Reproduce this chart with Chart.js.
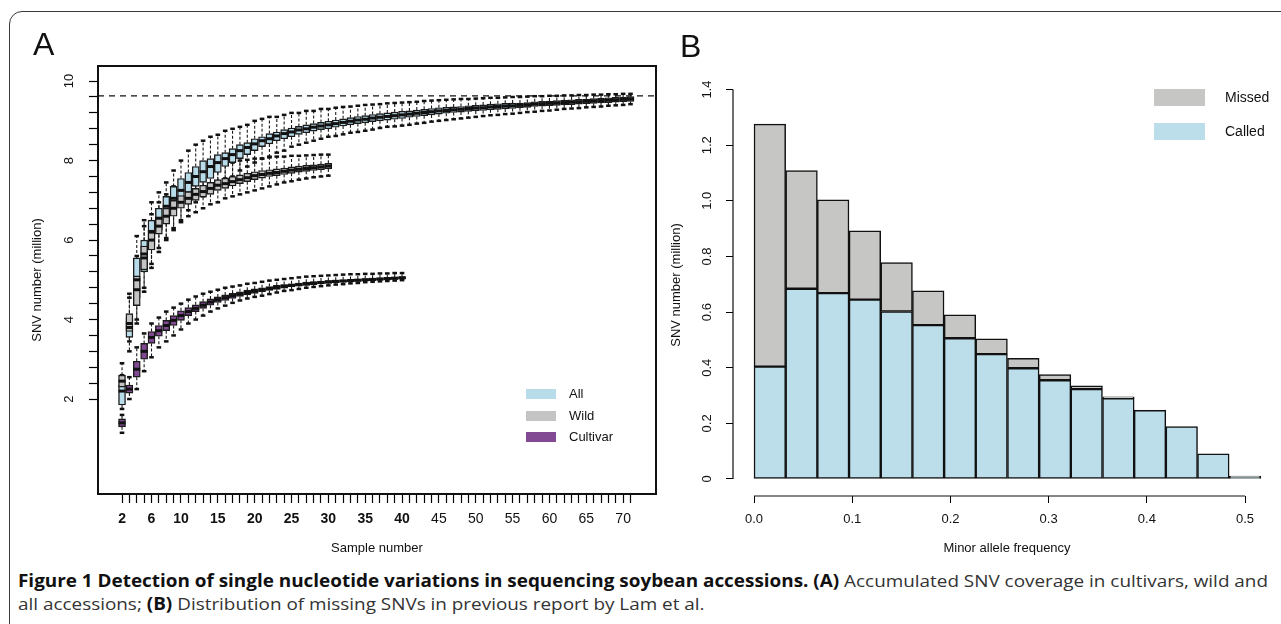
<!DOCTYPE html>
<html>
<head>
<meta charset="utf-8">
<script src="https://cdn.jsdelivr.net/npm/chart.js@4.4.0/dist/chart.umd.min.js"></script>
<style>
body { margin:0; width:1281px; height:624px; overflow:hidden; background:#fff; position:relative; font-family:"Liberation Sans", Arial, sans-serif; }
#frame { position:absolute; left:9px; top:11px; width:1320px; height:700px; border:1.5px solid #3a3a3a; border-radius:13px; box-sizing:border-box; }
#chartA { position:absolute; left:0; top:0; }
#chartB { position:absolute; left:660px; top:0; }
.letter { position:absolute; font-size:32px; line-height:1; color:#111; }
.sw { position:absolute; }
.leg { position:absolute; color:#111; line-height:1; white-space:nowrap; }
.cap { position:absolute; left:18px; white-space:nowrap; font-family:"Open Sans", sans-serif; font-size:17px; line-height:20px; color:#333; transform-origin:0 0; }
.cap b { color:#111; }
</style>
</head>
<body>
<div id="frame"></div>
<canvas id="chartA" width="670" height="560"></canvas>
<canvas id="chartB" width="621" height="560"></canvas>

<div class="letter" style="left:33px;top:28px;">A</div>
<div class="letter" style="left:680px;top:30px;">B</div>

<!-- legend A -->
<div class="sw" style="left:526px;top:389px;width:30px;height:10px;background:#b8dcea;"></div>
<div class="sw" style="left:526px;top:411px;width:30px;height:10px;background:#c4c4c4;"></div>
<div class="sw" style="left:526px;top:432px;width:30px;height:10px;background:#834a94;"></div>
<div class="leg" style="left:569px;top:387px;font-size:13px;">All</div>
<div class="leg" style="left:569px;top:409px;font-size:13px;">Wild</div>
<div class="leg" style="left:569px;top:430px;font-size:13px;">Cultivar</div>

<!-- legend B -->
<div class="sw" style="left:1154px;top:89px;width:51px;height:17px;background:#c6c6c5;"></div>
<div class="sw" style="left:1154px;top:123px;width:51px;height:17px;background:#bcdeeb;"></div>
<div class="leg" style="left:1225px;top:90px;font-size:14px;">Missed</div>
<div class="leg" style="left:1225px;top:124px;font-size:14px;">Called</div>

<div class="cap" id="cap1" style="top:571px;"><b>Figure 1 Detection of single nucleotide variations in sequencing soybean accessions. (A)</b> Accumulated SNV coverage in cultivars, wild and</div>
<div class="cap" id="cap2" style="top:594px;">all accessions; <b>(B)</b> Distribution of missing SNVs in previous report by Lam et al.</div>

<script>
// ---------- panel A : accumulated SNV (million) per sample number ----------
// all accessions, samples 2..71
const allMed = [2.20, 3.80, 5.00, 5.65, 6.20, 6.55, 6.85, 7.05, 7.25, 7.45,
  7.60, 7.72, 7.85, 7.95, 8.05, 8.15, 8.25, 8.33, 8.42, 8.50,
  8.55, 8.62, 8.68, 8.72, 8.77, 8.80, 8.84, 8.87, 8.90, 8.93,
  8.96, 8.99, 9.02, 9.04, 9.07, 9.09, 9.11, 9.13, 9.15, 9.17,
  9.19, 9.21, 9.23, 9.25, 9.26, 9.28, 9.29, 9.31, 9.32, 9.33,
  9.35, 9.36, 9.37, 9.38, 9.39, 9.40, 9.42, 9.43, 9.44, 9.45,
  9.46, 9.47, 9.48, 9.49, 9.50, 9.51, 9.52, 9.53, 9.54, 9.55];
const allQ1 = [1.85, 3.55, 4.55, 5.20, 5.85, 6.25, 6.55, 6.80, 7.00, 7.20,
  7.35, 7.45, 7.55, 7.70, 7.85, 7.95, 8.05, 8.15, 8.25, 8.35,
  8.42, 8.50, 8.55, 8.60, 8.66, 8.70, 8.74, 8.78, 8.80, 8.84,
  8.87, 8.90, 8.93, 8.95, 8.98, 9.00, 9.02, 9.04, 9.06, 9.09,
  9.11, 9.13, 9.15, 9.17, 9.19, 9.21, 9.22, 9.24, 9.25, 9.26,
  9.28, 9.29, 9.30, 9.31, 9.33, 9.34, 9.36, 9.37, 9.38, 9.39,
  9.40, 9.41, 9.42, 9.43, 9.44, 9.45, 9.46, 9.47, 9.48, 9.49];
const allQ3 = [2.35, 4.05, 5.55, 6.00, 6.50, 6.80, 7.10, 7.35, 7.55, 7.70,
  7.85, 8.00, 8.05, 8.15, 8.20, 8.30, 8.40, 8.45, 8.55, 8.60,
  8.68, 8.72, 8.78, 8.82, 8.86, 8.90, 8.93, 8.96, 8.99, 9.02,
  9.05, 9.08, 9.11, 9.13, 9.16, 9.18, 9.20, 9.22, 9.24, 9.25,
  9.27, 9.29, 9.31, 9.33, 9.34, 9.35, 9.36, 9.38, 9.39, 9.40,
  9.42, 9.43, 9.44, 9.45, 9.45, 9.46, 9.48, 9.49, 9.50, 9.51,
  9.52, 9.53, 9.54, 9.55, 9.56, 9.57, 9.58, 9.59, 9.60, 9.61];
const allLo = [1.75, 3.20, 4.00, 4.80, 5.30, 5.70, 6.00, 6.30, 6.50, 6.75,
  6.95, 7.10, 7.25, 7.40, 7.55, 7.60, 7.75, 7.85, 7.95, 8.05,
  8.10, 8.20, 8.25, 8.35, 8.40, 8.45, 8.50, 8.55, 8.60, 8.62,
  8.66, 8.70, 8.72, 8.75, 8.78, 8.82, 8.85, 8.86, 8.88, 8.90,
  8.93, 8.95, 8.98, 9.00, 9.02, 9.04, 9.06, 9.08, 9.10, 9.12,
  9.14, 9.15, 9.17, 9.18, 9.20, 9.22, 9.23, 9.25, 9.26, 9.28,
  9.30, 9.31, 9.32, 9.34, 9.35, 9.36, 9.38, 9.39, 9.40, 9.42];
const allHi = [2.60, 4.55, 6.10, 6.50, 6.95, 7.20, 7.45, 7.75, 8.00, 8.25,
  8.40, 8.50, 8.60, 8.65, 8.75, 8.80, 8.85, 8.90, 9.00, 9.05,
  9.10, 9.10, 9.15, 9.20, 9.20, 9.25, 9.25, 9.30, 9.30, 9.33,
  9.35, 9.36, 9.38, 9.40, 9.41, 9.42, 9.44, 9.45, 9.46, 9.47,
  9.48, 9.50, 9.51, 9.52, 9.53, 9.54, 9.55, 9.55, 9.56, 9.57,
  9.58, 9.58, 9.59, 9.60, 9.60, 9.61, 9.62, 9.62, 9.63, 9.63,
  9.64, 9.64, 9.65, 9.65, 9.66, 9.66, 9.67, 9.67, 9.68, 9.68];

// wild accessions, samples 2..30
const wildMed = [2.45, 3.90, 4.75, 5.55, 6.00, 6.35, 6.60, 6.80, 6.95, 7.05,
  7.15, 7.22, 7.30, 7.38, 7.42, 7.47, 7.52, 7.57, 7.62, 7.65,
  7.68, 7.70, 7.73, 7.76, 7.78, 7.80, 7.82, 7.84, 7.86];
const wildQ1 = [2.30, 3.70, 4.35, 5.25, 5.75, 6.15, 6.40, 6.60, 6.80, 6.90,
  7.00, 7.08, 7.15, 7.25, 7.30, 7.36, 7.42, 7.47, 7.52, 7.56,
  7.60, 7.62, 7.65, 7.68, 7.71, 7.73, 7.75, 7.77, 7.79];
const wildQ3 = [2.60, 4.15, 5.10, 5.85, 6.25, 6.55, 6.80, 7.00, 7.12, 7.22,
  7.30, 7.38, 7.45, 7.52, 7.56, 7.60, 7.64, 7.68, 7.72, 7.75,
  7.77, 7.79, 7.81, 7.84, 7.86, 7.88, 7.89, 7.91, 7.93];
const wildLo = [2.15, 3.45, 3.90, 4.70, 5.40, 5.80, 6.05, 6.25, 6.45, 6.60,
  6.70, 6.80, 6.90, 6.95, 7.05, 7.10, 7.15, 7.20, 7.25, 7.30,
  7.35, 7.40, 7.45, 7.48, 7.52, 7.55, 7.58, 7.60, 7.62];
const wildHi = [2.90, 4.65, 5.60, 6.35, 6.65, 6.95, 7.15, 7.35, 7.50, 7.60,
  7.70, 7.80, 7.90, 7.88, 7.90, 7.95, 8.00, 8.02, 8.05, 8.05,
  8.08, 8.10, 8.10, 8.12, 8.12, 8.13, 8.14, 8.15, 8.15];

// cultivars, samples 2..40
const cultMed = [1.40, 2.25, 2.75, 3.20, 3.55, 3.72, 3.85, 3.98, 4.10, 4.20,
  4.28, 4.36, 4.44, 4.50, 4.55, 4.60, 4.64, 4.68, 4.72, 4.75,
  4.78, 4.81, 4.84, 4.86, 4.88, 4.90, 4.92, 4.93, 4.95, 4.96,
  4.97, 4.98, 4.99, 5.00, 5.01, 5.02, 5.03, 5.04, 5.05];
const cultQ1 = [1.30, 2.15, 2.55, 3.00, 3.40, 3.58, 3.72, 3.85, 3.98, 4.10,
  4.20, 4.28, 4.36, 4.43, 4.48, 4.53, 4.58, 4.62, 4.66, 4.70,
  4.73, 4.76, 4.79, 4.82, 4.84, 4.86, 4.88, 4.90, 4.91, 4.93,
  4.94, 4.95, 4.96, 4.97, 4.98, 4.99, 5.00, 5.01, 5.02];
const cultQ3 = [1.50, 2.35, 2.95, 3.40, 3.70, 3.85, 3.98, 4.10, 4.22, 4.30,
  4.37, 4.45, 4.52, 4.57, 4.62, 4.66, 4.70, 4.74, 4.77, 4.80,
  4.83, 4.86, 4.88, 4.90, 4.92, 4.94, 4.95, 4.97, 4.98, 4.99,
  5.00, 5.01, 5.02, 5.03, 5.04, 5.05, 5.06, 5.07, 5.08];
const cultLo = [1.15, 2.00, 2.25, 2.70, 3.05, 3.30, 3.45, 3.60, 3.75, 3.90,
  4.00, 4.10, 4.20, 4.28, 4.35, 4.42, 4.48, 4.53, 4.57, 4.60,
  4.64, 4.68, 4.72, 4.74, 4.77, 4.80, 4.82, 4.84, 4.86, 4.88,
  4.89, 4.91, 4.92, 4.94, 4.95, 4.96, 4.97, 4.98, 4.99];
const cultHi = [1.60, 2.55, 3.30, 3.65, 3.90, 4.05, 4.20, 4.30, 4.40, 4.50,
  4.58, 4.65, 4.70, 4.75, 4.80, 4.83, 4.86, 4.90, 4.92, 4.95,
  4.98, 5.00, 5.02, 5.04, 5.06, 5.08, 5.09, 5.10, 5.11, 5.12,
  5.13, 5.14, 5.14, 5.15, 5.15, 5.16, 5.16, 5.17, 5.17];

const firstSample = 2;
const xLabelsA = [2, 6, 10, 15, 20, 25, 30, 35, 40, 45, 50, 55, 60, 65, 70];
const boldUpTo = 40;
const yLabelsA = [2, 4, 6, 8, 10];
const yTickStepA = 0.4;
const totalSNV = 9.63; // dashed line

// ---------- panel B : minor allele frequency histogram ----------
const mafBins = [0.0161, 0.0484, 0.0806, 0.1129, 0.1452, 0.1774, 0.2097, 0.2419,
  0.2742, 0.3065, 0.3387, 0.3710, 0.4032, 0.4355, 0.4677, 0.5000];
const calledSNV = [0.404, 0.684, 0.668, 0.645, 0.602, 0.553, 0.506, 0.449,
  0.398, 0.355, 0.323, 0.290, 0.247, 0.188, 0.090, 0.006];
const missedSNV = [0.872, 0.425, 0.336, 0.247, 0.176, 0.123, 0.084, 0.055,
  0.036, 0.020, 0.012, 0.005, 0.001, 0.000, 0.000, 0.004];
const xTicksB = [0, 0.1, 0.2, 0.3, 0.4, 0.5];
const yTicksB = [0, 0.2, 0.4, 0.6, 0.8, 1.0, 1.2, 1.4];

const FONT = 'Liberation Sans';

function boxParts(med, q1, q3, lo, hi) {
  const xs = med.map((_, i) => i + firstSample);
  return {
    xs: xs,
    box: xs.map((x, i) => ({x: x, y: [q1[i], q3[i]]})),
    med: xs.map((x, i) => ({x: x, y: med[i]})),
    caps: xs.flatMap((x, i) => [{x: x, y: lo[i]}, {x: x, y: hi[i]}]),
    whisk: xs.flatMap((x, i) => [{x: x, y: q3[i]}, {x: x, y: hi[i]}, {x: x, y: null},
                                  {x: x, y: q1[i]}, {x: x, y: lo[i]}, {x: x, y: null}])
  };
}

const gAll = boxParts(allMed, allQ1, allQ3, allLo, allHi);
const gWild = boxParts(wildMed, wildQ1, wildQ3, wildLo, wildHi);
const gCult = boxParts(cultMed, cultQ1, cultQ3, cultLo, cultHi);

const xMinA = -1.26, xMaxA = 74.46;

function whiskSet(g) {
  return {type: 'line', data: g.whisk, borderColor: '#1a1a1a', borderWidth: 1.1, borderDash: [3, 2],
    pointRadius: 0, spanGaps: false, order: 20};
}
function capSet(g) {
  return {type: 'scatter', data: g.caps, pointStyle: 'line', pointRadius: 2.3, borderWidth: 2.5,
    borderColor: '#111', order: 19};
}
function boxSet(g, col, ord) {
  return {type: 'bar', data: g.box, backgroundColor: col, borderColor: '#1a1a1a', borderWidth: 1.4,
    borderSkipped: false, grouped: false, barPercentage: 1, categoryPercentage: 1,
    maxBarThickness: 7, order: ord};
}
function medSet(g) {
  return {type: 'scatter', data: g.med, pointStyle: 'line', pointRadius: 3.5, borderWidth: 3,
    borderColor: '#111', order: 1};
}

// box round the plot region
const frameA = {
  id: 'frameA',
  afterDatasetsDraw(chart) {
    const a = chart.chartArea, c = chart.ctx;
    c.save();
    c.strokeStyle = '#111';
    c.lineWidth = 2;
    c.strokeRect(a.left, a.top, a.right - a.left, a.bottom - a.top);
    c.restore();
  }
};

new Chart(document.getElementById('chartA'), {
  type: 'bar',
  data: {
    datasets: [
      whiskSet(gAll), whiskSet(gWild), whiskSet(gCult),
      capSet(gAll), capSet(gWild), capSet(gCult),
      boxSet(gAll, '#b8dcea', 10), boxSet(gWild, '#c4c4c4', 9), boxSet(gCult, '#834a94', 8),
      medSet(gAll), medSet(gWild), medSet(gCult),
      {type: 'line', data: [{x: xMinA, y: totalSNV}, {x: xMaxA, y: totalSNV}], borderColor: '#111',
        borderWidth: 1.2, borderDash: [6, 5], pointRadius: 0, order: 0}
    ]
  },
  options: {
    responsive: false,
    animation: false,
    events: [],
    layout: {padding: {left: 0, right: 14, top: 66, bottom: 0}},
    plugins: {legend: {display: false}, tooltip: {enabled: false}},
    scales: {
      x: {
        type: 'linear', min: xMinA, max: xMaxA, offset: false,
        grid: {display: true, drawOnChartArea: false, drawTicks: true, tickLength: 9, tickColor: '#000', tickWidth: 1.2, offset: false},
        border: {display: false},
        afterBuildTicks: s => { s.ticks = gAll.xs.map(v => ({value: v})); },
        ticks: {
          autoSkip: false, maxRotation: 0, minRotation: 0, padding: 8, color: '#111',
          font: ctx => ({family: FONT, size: 14, weight: (ctx.tick && ctx.tick.value <= boldUpTo) ? 'bold' : 'normal'}),
          callback: v => xLabelsA.includes(v) ? String(v) : ''
        },
        title: {display: true, text: 'Sample number', color: '#111', font: {family: FONT, size: 13}, padding: {top: 0, bottom: 4}},
        afterFit: s => { s.height = 66; }
      },
      y: {
        type: 'linear', min: -0.39, max: 10.38,
        grid: {display: true, drawOnChartArea: false, drawTicks: true, tickLength: 9, tickColor: '#000', tickWidth: 1.2},
        border: {display: false},
        afterBuildTicks: s => {
          const t = [];
          for (let v = yLabelsA[0]; v <= yLabelsA[yLabelsA.length - 1] + 1e-6; v += yTickStepA) t.push({value: v});
          s.ticks = t;
        },
        ticks: {
          autoSkip: false, minRotation: 90, maxRotation: 90, crossAlign: 'center', padding: 12, color: '#111',
          font: {family: FONT, size: 13},
          callback: v => { const m = yLabelsA.find(l => Math.abs(l - v) < 1e-6); return m === undefined ? '' : String(m); }
        },
        title: {display: true, text: 'SNV number (million)', color: '#111', font: {family: FONT, size: 13}, padding: {top: 30, bottom: 0}},
        afterFit: s => { s.width = 98; }
      }
    }
  },
  plugins: [frameA]
});

// R style axis lines that stop at the first and last tick
const axisLinesB = {
  id: 'axisLinesB',
  afterDraw(chart) {
    const c = chart.ctx, a = chart.chartArea, sx = chart.scales.x, sy = chart.scales.y;
    c.save();
    c.strokeStyle = '#111';
    c.lineWidth = 1.2;
    c.beginPath();
    c.moveTo(sx.getPixelForValue(xTicksB[0]), a.bottom);
    c.lineTo(sx.getPixelForValue(xTicksB[xTicksB.length - 1]), a.bottom);
    c.moveTo(a.left, sy.getPixelForValue(yTicksB[0]));
    c.lineTo(a.left, sy.getPixelForValue(yTicksB[yTicksB.length - 1]));
    c.stroke();
    c.restore();
  }
};

new Chart(document.getElementById('chartB'), {
  type: 'bar',
  data: {
    datasets: [
      {label: 'Called', data: mafBins.map((x, i) => ({x: x, y: calledSNV[i]})), backgroundColor: '#bcdeeb',
        borderColor: '#111', borderWidth: 1.5, borderSkipped: false, barPercentage: 1, categoryPercentage: 1},
      {label: 'Missed', data: mafBins.map((x, i) => ({x: x, y: missedSNV[i]})), backgroundColor: '#c6c6c5',
        borderColor: '#111', borderWidth: 1.5, borderSkipped: false, barPercentage: 1, categoryPercentage: 1}
    ]
  },
  options: {
    responsive: false,
    animation: false,
    events: [],
    layout: {padding: {left: 0, right: 0, top: 74, bottom: 0}},
    plugins: {legend: {display: false}, tooltip: {enabled: false}},
    scales: {
      x: {
        type: 'linear', min: -0.0214, max: 0.5366, stacked: true, offset: false,
        grid: {display: true, drawOnChartArea: false, drawTicks: true, tickLength: 7, tickColor: '#000', offset: false},
        border: {display: false},
        afterBuildTicks: s => { s.ticks = xTicksB.map(v => ({value: v})); },
        ticks: {autoSkip: false, maxRotation: 0, padding: 9, color: '#111', font: {family: FONT, size: 13},
          callback: v => v.toFixed(1)},
        title: {display: true, text: 'Minor allele frequency', color: '#111', font: {family: FONT, size: 13}, padding: {top: 0, bottom: 4}},
        afterFit: s => { s.height = 64; }
      },
      y: {
        type: 'linear', min: -0.0612, max: 1.456, stacked: true,
        grid: {display: true, drawOnChartArea: false, drawTicks: true, tickLength: 7, tickColor: '#000'},
        border: {display: false},
        afterBuildTicks: s => { s.ticks = yTicksB.map(v => ({value: v})); },
        ticks: {autoSkip: false, minRotation: 90, maxRotation: 90, crossAlign: 'center', padding: 10, color: '#111',
          font: {family: FONT, size: 13},
          callback: v => v === 0 ? '0' : v.toFixed(1)},
        title: {display: true, text: 'SNV number (million)', color: '#111', font: {family: FONT, size: 13}, padding: {top: 9, bottom: 0}},
        afterFit: s => { s.width = 73; }
      }
    }
  },
  plugins: [axisLinesB]
});

// caption: squeeze to the width of the printed line
function fitCaption() {
  const l1 = document.getElementById('cap1'), l2 = document.getElementById('cap2');
  l1.style.transform = ''; l2.style.transform = '';
  const k = 1250 / l1.getBoundingClientRect().width;
  l1.style.transform = 'scaleX(' + k + ')';
  l2.style.transform = 'scaleX(' + k + ')';
}
fitCaption();
if (document.fonts) document.fonts.ready.then(fitCaption);
</script>
</body>
</html>
